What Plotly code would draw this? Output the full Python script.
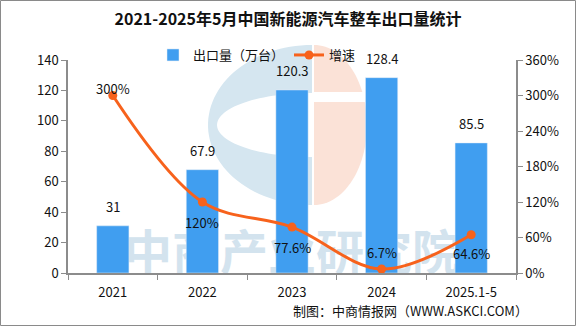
import numpy as np
import plotly.graph_objects as go

categories = ["2021", "2022", "2023", "2024", "2025.1-5"]
exports = [31, 67.9, 120.3, 128.4, 85.5]
export_labels = ["31", "67.9", "120.3", "128.4", "85.5"]
growth = [3.00, 1.20, 0.776, 0.067, 0.646]
growth_labels = ["300%", "120%", "77.6%", "6.7%", "64.6%"]
growth_label_shift = [7, -20, -20, 17, -19]

title_text = "2021-2025年5月中国新能源汽车整车出口量统计"
source_text = "制图：中商情报网（WWW.ASKCI.COM）"
watermark = "中商产业研究院"

W, H = 576, 327
L, R, T, B = 68, 516, 60, 273
FONT = "Noto Sans CJK SC"
BAR_C = "#409EF0"
LINE_C = "#F7621C"
AX_C = "#8C8C8C"


def px(x):
    return (x - L) / (R - L)


def py(y):
    return (B - y) / (B - T)


def path_from(points):
    s = "M " + " L ".join(f"{px(x):.4f},{py(y):.4f}" for x, y in points) + " Z"
    return s


# decorative logo geometry (pixels)
cx, cy = 312, 125
t_out = np.linspace(np.pi / 2, 3 * np.pi / 2, 60)
outer = [(cx + 104 * np.cos(t), cy - 80 * np.sin(t)) for t in t_out]
t_in = np.linspace(3 * np.pi / 2, np.pi / 2, 60)
inner = [(cx + 95 * np.cos(t), cy - 32 * np.sin(t)) for t in t_in]
blue_c = outer + inner
t_or = np.linspace(np.pi / 2, -np.pi / 2, 60)
orange = [(cx + 2 + 53 * np.cos(t), cy - 80 * np.sin(t)) for t in t_or]

fig = go.Figure()

# watermark behind bars (main hidden subplot)
fig.add_trace(go.Scatter(
    x=[categories[2]], y=[0.07], mode="text", text=[watermark],
    textfont=dict(family=FONT, size=48, color="#D3E3EE", weight="bold"),
    showlegend=False, hoverinfo="skip", yaxis="y", cliponaxis=True,
))

fig.add_trace(go.Bar(
    x=categories, y=exports, name="出口量（万台）", marker_color=BAR_C,
    width=0.36, yaxis="y2",
))
fig.add_trace(go.Scatter(
    x=categories, y=growth, name="增速", mode="lines+markers",
    line=dict(color=LINE_C, width=3, shape="spline", smoothing=1.0),
    marker=dict(size=9, color=LINE_C), yaxis="y3", cliponaxis=False,
))

annotations = []
for i, (v, t) in enumerate(zip(exports, export_labels)):
    annotations.append(dict(x=i, y=v, xref="x", yref="y2", text=t, showarrow=False,
                            yanchor="bottom", yshift=8,
                            font=dict(family=FONT, size=13, color="#111")))
for i, (v, t, s) in enumerate(zip(growth, growth_labels, growth_label_shift)):
    annotations.append(dict(x=i, y=v, xref="x", yref="y3", text=t, showarrow=False,
                            yanchor="middle", yshift=s,
                            font=dict(family=FONT, size=13, color="#111")))
annotations.append(dict(x=px(530), y=py(310), xref="paper", yref="paper", text=source_text,
                        showarrow=False, xanchor="right", yanchor="middle",
                        font=dict(family=FONT, size=13, color="#111")))

shapes = [
    dict(type="path", path=path_from(blue_c), xref="paper", yref="paper",
         fillcolor="#D5E6F0", line=dict(width=0), layer="below"),
    dict(type="path", path=path_from(orange), xref="paper", yref="paper",
         fillcolor="#FBE2D7", line=dict(width=0), layer="below"),
    dict(type="rect", x0=px(312), x1=px(368), y0=py(92), y1=py(102), xref="paper", yref="paper",
         fillcolor="white", line=dict(width=0), layer="below"),
    dict(type="rect", x0=px(0.5), x1=px(575.5), y0=py(0.5), y1=py(325.5), xref="paper", yref="paper",
         line=dict(color="#8A8A8A", width=1), fillcolor="rgba(0,0,0,0)", layer="above"),
]

tickfont = dict(family=FONT, size=13, color="#111")
fig.update_layout(
    width=W, height=H,
    margin=dict(l=L, r=W - R, t=T, b=H - B),
    paper_bgcolor="white", plot_bgcolor="rgba(0,0,0,0)",
    title=dict(text=title_text, x=0.5, xref="container", xanchor="center",
               y=1 - 19 / H, yref="container", yanchor="middle",
               font=dict(family=FONT, size=16, color="#111", weight="bold")),
    legend=dict(orientation="h", x=px(257), xanchor="center", y=py(55), yanchor="middle",
                font=dict(family=FONT, size=13, color="#111"), bgcolor="rgba(0,0,0,0)",
                itemwidth=30, tracegroupgap=0),
    xaxis=dict(type="category", categoryorder="array", categoryarray=categories,
               range=[-0.5, 4.5], showline=True, linecolor=AX_C, linewidth=1.5,
               ticks="outside", tickson="boundaries", ticklen=5, tickcolor=AX_C,
               tickfont=tickfont, showgrid=False, zeroline=False, anchor="y",
               ticklabelstandoff=7),
    yaxis=dict(visible=False, range=[0, 1], fixedrange=True),
    yaxis2=dict(overlaying="y", side="left", range=[0, 140], dtick=20, showline=True,
                linecolor=AX_C, linewidth=1.5, ticks="outside", ticklen=5, tickcolor=AX_C,
                tickfont=tickfont, showgrid=False, zeroline=False, anchor="x"),
    yaxis3=dict(overlaying="y", side="right", range=[0, 3.6], dtick=0.6, tickformat=".0%",
                showline=True, linecolor=AX_C, linewidth=1.5, ticks="outside", ticklen=5,
                tickcolor=AX_C, tickfont=tickfont, showgrid=False, zeroline=False, anchor="x"),
    annotations=annotations,
    shapes=shapes,
    bargap=0.64,
)

fig.write_html("out.html")
